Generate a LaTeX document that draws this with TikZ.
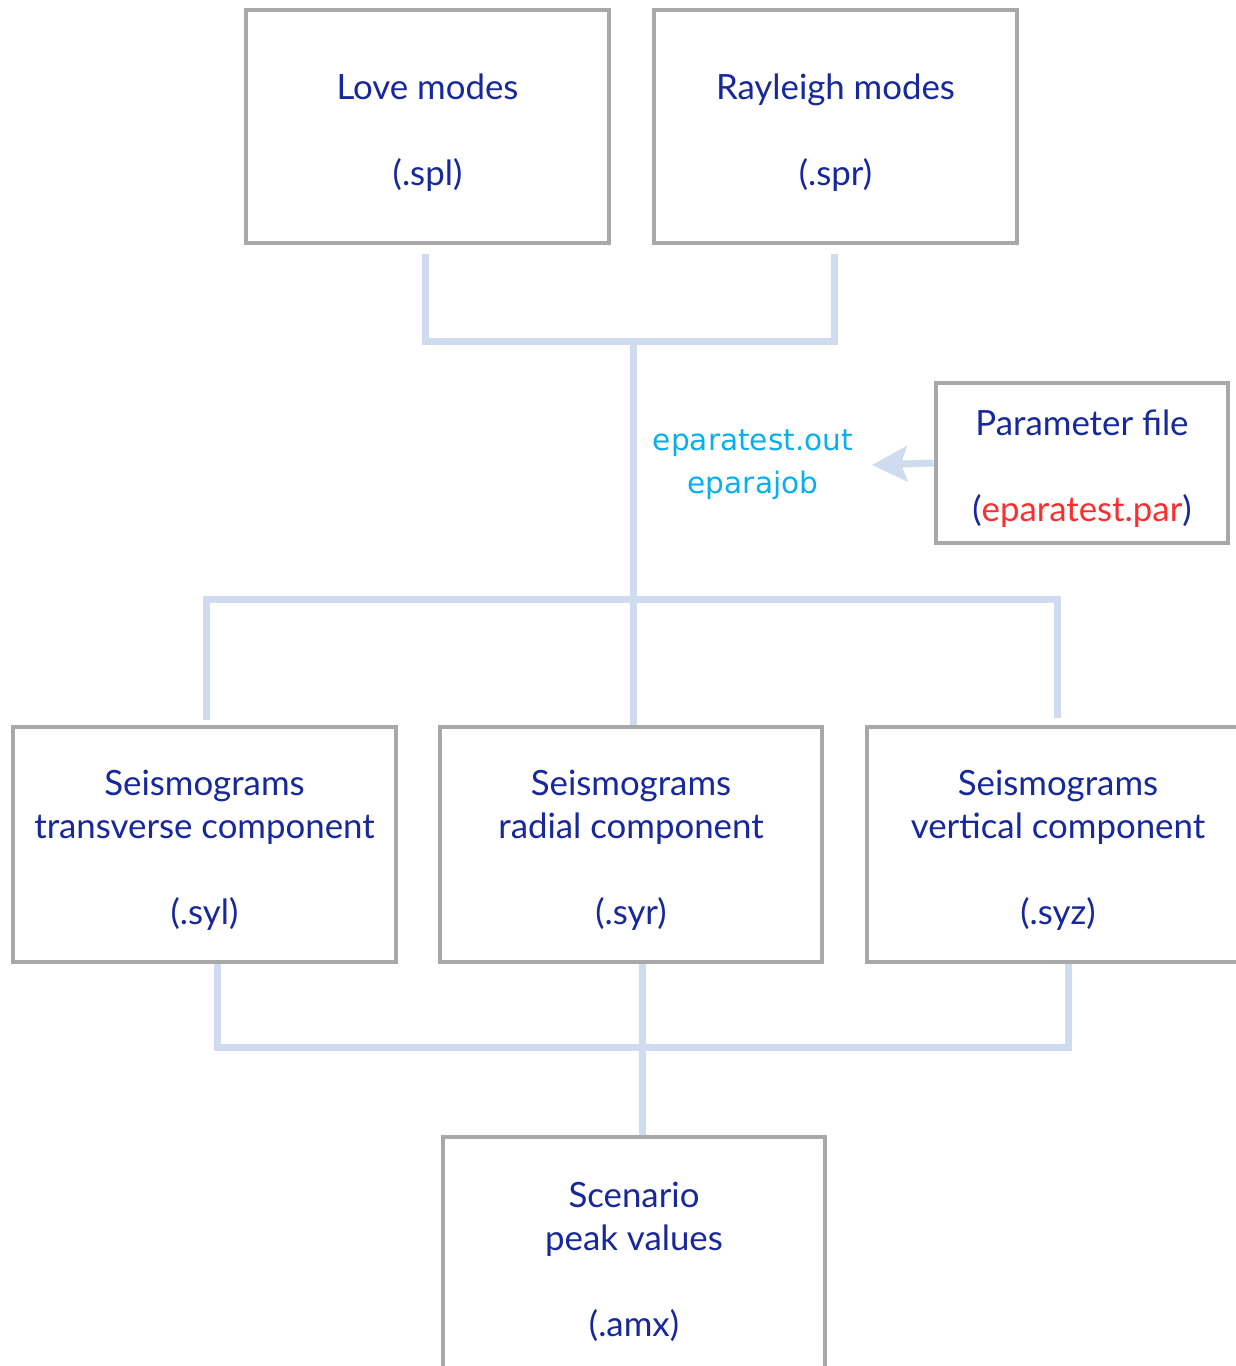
\documentclass[tikz,border=0pt]{standalone}
\usepackage{fontspec}
\setmainfont{Lato}
\newfontfamily\outfont{DejaVu Sans}
\usetikzlibrary{arrows.meta}
\definecolor{boxgray}{HTML}{A6A9A7}
\definecolor{linkblue}{HTML}{CFDCF0}
\definecolor{txtblue}{HTML}{16289C}
\definecolor{outcyan}{HTML}{0AAEEE}
\definecolor{parred}{HTML}{FF2E2E}
\tikzset{
  filebox/.style={draw=boxgray, line width=2.3pt, fill=white, inner sep=0pt},
  boxtext/.style={align=center, text=txtblue, inner sep=0pt, yshift=-3pt,
    font=\fontsize{17.4}{21.5}\selectfont},
  link/.style={draw=linkblue, line width=3.5pt},
  outtext/.style={align=center, text=outcyan, inner sep=0pt,
    font=\outfont\fontsize{14.8}{21.5}\selectfont},
}
\begin{document}
\begin{tikzpicture}[x=0.5pt, y=-0.5pt]
  \useasboundingbox (0,0) rectangle (1236,1366);
  \clip (0,0) rectangle (1236,1366);

  % input mode files
  \node[filebox, minimum width=181.5pt, minimum height=116.5pt,
    label={[boxtext, name=lovetxt]center:Love modes\\[21.5pt](.spl)}] (love) at (427.5,126.5) {};
  \node[filebox, minimum width=181.5pt, minimum height=116.5pt,
    label={[boxtext, name=raytxt]center:Rayleigh modes\\[21.5pt](.spr)}] (ray) at (835.5,126.5) {};

  % parameter file and program outputs
  \node[filebox, minimum width=146pt, minimum height=80pt,
    label={[boxtext, name=partxt]center:Parameter file\\[21.5pt](\textcolor{parred}{eparatest.par})}]
    (par) at (1082,463) {};
  \node[outtext] (out) at (753,465) {eparatest.out\\eparajob};

  % seismogram files
  \node[filebox, minimum width=191.5pt, minimum height=117.5pt,
    label={[boxtext, name=syltxt]center:Seismograms\\transverse component\\[21.5pt](.syl)}]
    (syl) at (204.5,844.5) {};
  \node[filebox, minimum width=191pt, minimum height=117.5pt,
    label={[boxtext, name=syrtxt]center:Seismograms\\radial component\\[21.5pt](.syr)}]
    (syr) at (631,844.5) {};
  \node[filebox, minimum width=191pt, minimum height=117.5pt,
    label={[boxtext, name=syztxt]center:Seismograms\\vertical component\\[21.5pt](.syz)}]
    (syz) at (1058,844.5) {};

  % peak values
  \node[filebox, minimum width=191pt, minimum height=122pt,
    label={[boxtext, yshift=1.5pt, name=amxtxt]center:Scenario\\peak values\\[21.5pt](.amx)}]
    (amx) at (634,1259) {};

  % junction points
  \coordinate (jtop) at (633,341);
  \coordinate (jmid) at (633,599);
  \coordinate (jbot) at (642,1047);
  \coordinate (tip) at (872,465);

  % modes -> program
  \draw[link] ([xshift=-1pt, yshift=-4.5pt]love.south) -- ([xshift=-1pt]love.south |- jtop)
    -- ([xshift=-0.75pt]ray.south |- jtop) -- ([xshift=-0.75pt, yshift=-4.5pt]ray.south);
  \draw[link] (jtop) -- (jtop |- syr.north);
  % program -> seismograms
  \draw[link] ([xshift=0.75pt, yshift=2.5pt]syl.north) -- ([xshift=0.75pt]syl.north |- jmid)
    -- ([xshift=-0.5pt]syz.north |- jmid) -- ([xshift=-0.5pt, yshift=3.5pt]syz.north);
  % seismograms -> peak values
  \draw[link] ([xshift=6.25pt]syl.south) -- ([xshift=6.25pt]syl.south |- jbot)
    -- ([xshift=5pt]syz.south |- jbot) -- ([xshift=5pt]syz.south);
  \draw[link] (syr.south -| jbot) -- (jbot) -- (jbot |- amx.north);

  % parameter file feeds the program
  \draw[link, -{Stealth[length=17.5pt, width=17.5pt, inset=3pt]}] (par.west) -- (tip);
\end{tikzpicture}
\end{document}
